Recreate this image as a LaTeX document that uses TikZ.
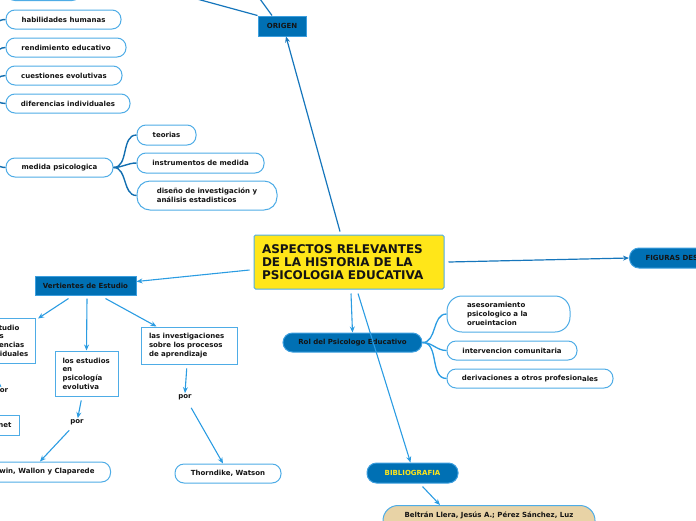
\documentclass[tikz,border=0pt]{standalone}
\usepackage{fontspec}
\setmainfont{DejaVu Sans}
\usetikzlibrary{arrows.meta}
\definecolor{db}{RGB}{0,112,180}
\definecolor{dbline}{RGB}{60,158,222}
\definecolor{wline}{RGB}{78,172,230}
\definecolor{conncol}{RGB}{22,118,188}
\definecolor{curvecol}{RGB}{18,110,176}
\definecolor{arrcol}{RGB}{43,156,226}
\definecolor{yel}{RGB}{255,230,25}
\definecolor{tan}{RGB}{232,211,166}
\definecolor{txt}{RGB}{20,20,20}
\definecolor{biblio}{RGB}{255,230,25}
\newcommand\lab{\fontsize{7}{8.7}\selectfont\bfseries}
\begin{document}
\begin{tikzpicture}[x=1pt,y=-1pt,
  every node/.style={text=txt, font=\lab},
  pill/.style={draw=wline, line width=1pt, fill=white, rounded corners=9pt, minimum height=19pt, inner sep=0pt},
  sqbox/.style={draw=wline, line width=1pt, fill=white, align=left, inner ysep=4pt},
  bluerect/.style={draw=dbline, line width=1pt, fill=db, minimum height=20pt, inner sep=0pt},
  bluepill/.style={draw=dbline, line width=1pt, fill=db, rounded corners=9.5pt, minimum height=20pt, inner sep=0pt},
  plain/.style={inner sep=1pt},
  conn/.style={draw=conncol, line width=1.2pt},
  curv/.style={draw=curvecol, line width=1.4pt},
  arr/.style={conn, -{Stealth[length=6pt,width=5pt]}},
  arrb/.style={draw=arrcol, line width=1.1pt, -{Stealth[length=6pt,width=5pt]}}
]
\useasboundingbox (0,0) rectangle (696,520);

% left column
\node[pill, minimum width=75pt] (top) at (43.5,-9) {};
\node[pill, minimum width=115pt] (hab) at (63.5,19.5) {habilidades humanas};
\node[pill, minimum width=120pt] (rend) at (66,47.5) {rendimiento educativo};
\node[pill, minimum width=116pt] (cuest) at (64,75.5) {cuestiones evolutivas};
\node[pill, minimum width=124pt] (dif) at (68,103.5) {diferencias individuales};
\node[pill, minimum width=107pt] (med) at (59.5,167.5) {medida psicologica};
\coordinate (lp) at (-22,92);
\foreach \n in {top,hab,rend,cuest,dif,med}
  \draw[curv] (lp) to[out=0,in=180] (\n.west);

\node[pill, minimum width=59pt, minimum height=20pt] (teo) at (166.5,135) {teorias};
\node[pill, minimum width=127pt, minimum height=20pt] (ins) at (200.5,163) {instrumentos de medida};
\node[pill, minimum width=140pt, minimum height=29pt, rounded corners=13pt, align=left] (dis) at (207,195.5) {diseño de investigación y\\análisis estadisticos};
\foreach \n in {teo,ins,dis}
  \draw[curv] (med.east) to[out=0,in=180] (\n.west);

% origen
\node[bluerect, minimum width=48pt] (orig) at (282,26) {ORIGEN};
\coordinate (c1) at (197,-1);
\coordinate (c2) at (260,-1);
\draw[conn] (c1) -- (orig.north west);
\draw[conn] (c2) -- ([xshift=-10pt]orig.north);

% main
\node[draw=wline, line width=1pt, fill=yel, rounded corners=1.5pt, minimum width=190pt, minimum height=54pt,
      text width=174pt, inner xsep=8pt, align=left, font=\fontsize{12}{13}\selectfont\bfseries] (main) at (349,262)
  {ASPECTOS RELEVANTES\\DE LA HISTORIA DE LA\\PSICOLOGIA EDUCATIVA};

\draw[arr] ([xshift=-9pt,yshift=3pt]main.north) -- ([xshift=4pt]orig.south);

% figuras
\node[bluepill, anchor=west, minimum height=20pt, text width=70pt, inner xsep=16pt, align=left] (fig) at (629,258) {FIGURAS DES};
\draw[arr] ([xshift=4pt]main.east) -- (fig.west);

% vertientes
\node[bluerect, minimum width=101pt, minimum height=19pt] (vert) at (85.5,285.5) {Vertientes de Estudio};
\draw[arrb] ([xshift=-4pt,yshift=-8pt]main.west) -- ([yshift=4pt]vert.east);

\node[sqbox, anchor=east, minimum height=45pt, text width=47pt, inner xsep=8pt] (estd) at (36,340.5) {el estudio\\de las\\diferencias\\individuales};
\node[sqbox, minimum width=63pt, minimum height=45pt, text width=48pt, inner xsep=7.5pt] (ev) at (86.5,373.5) {los estudios\\en\\psicología\\evolutiva};
\node[sqbox, minimum width=96pt, minimum height=37pt, text width=80pt, inner xsep=8pt] (inv) at (189,345.5) {las investigaciones\\sobre los procesos\\de aprendizaje};

\draw[arrb] ([xshift=-17pt,yshift=-3pt]vert.south) -- ([xshift=2pt,yshift=-1pt]estd.north east);
\draw[arrb] ([xshift=1.5pt,yshift=-3pt]vert.south) -- (ev.north);
\draw[arrb] ([xshift=20pt,yshift=-3pt]vert.south) -- ([xshift=16pt]inv.north west);

\node[plain] (por1) at (1.5,391) {por};
\node[plain] (por2) at (77,422) {por};
\node[plain] (por3) at (185,397) {por};
\draw[arrb, shorten <=3pt] ([xshift=5pt]estd.south west |- estd.south) -- (por1.north);
\draw[arrb, shorten <=4pt] (ev) -- (por2);
\draw[arrb, shorten <=4pt] ([xshift=-2pt]inv.south) -- (por3.north);

\node[sqbox, anchor=east, minimum height=20pt, inner xsep=8pt, inner ysep=0pt] (binet) at (20,425) {Binet};
\node[pill, anchor=east, inner xsep=16pt, minimum height=20pt] (darw) at (111,472) {Darwin, Wallon y Claparede};
\node[pill, minimum width=106pt, minimum height=19pt] (thor) at (228,473.5) {Thorndike, Watson};
\draw[arrb, shorten <=6pt] (por2) -- (darw.north);
\draw[arrb, shorten <=8pt] (por3) -- ([xshift=-5pt]thor.north);

% rol
\node[bluepill, minimum width=139pt, minimum height=19pt] (rol) at (352.5,342.5) {Rol del Psicologo Educativo};
\draw[arrb] ([xshift=2pt,yshift=-4pt]main.south) -- (rol.north);
\node[pill, minimum width=123pt, minimum height=36pt, rounded corners=15pt, text width=83pt, inner xsep=20pt, align=left] (ase) at (508.5,314) {asesoramiento\\psicologico a la\\orueintacion};
\node[pill, minimum width=130pt] (inter) at (512,350.5) {intervencion comunitaria};
\node[pill, minimum width=166pt] (deriv) at (530,378.5) {derivaciones a otros profesion\raisebox{-1pt}{ales}};
\foreach \n in {ase,inter,deriv}
  \draw[draw=arrcol, line width=1.3pt] (rol.east) to[out=0,in=180] (\n.west);

% bibliografia
\node[bluepill, minimum width=91pt, minimum height=20pt, text=biblio] (bib) at (412.5,473) {BIBLIOGRAFIA};
\draw[arrb] ([xshift=9pt,yshift=-4pt]main.south) -- ([xshift=-2pt]bib.north);
\node[draw=wline, line width=1pt, fill=tan, rounded corners=15pt, anchor=north, minimum width=212pt,
      inner ysep=6pt, text depth=20pt] (belt) at (489,505) {Beltrán Llera, Jesús A.; Pérez Sánchez, Luz};
\draw[arrb] ([xshift=10pt,yshift=-3pt]bib.south) -- ([xshift=-49pt]belt.north);
\end{tikzpicture}
\end{document}
